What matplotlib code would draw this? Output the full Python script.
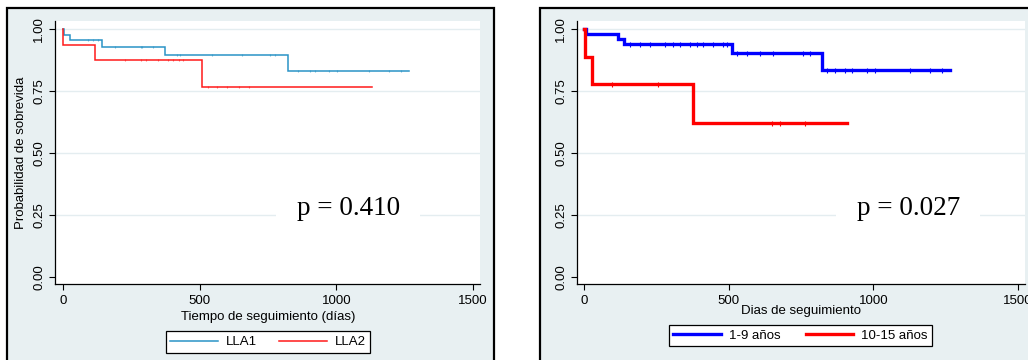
import numpy as np
import matplotlib
matplotlib.use("Agg")
import matplotlib.pyplot as plt
from matplotlib.patches import Rectangle
from matplotlib.lines import Line2D

plt.rcParams["font.family"] = ["Liberation Sans", "DejaVu Sans"]

# Kaplan-Meier curves: event times (days) and survival after each step
lla1_t = [0, 4, 26, 141, 372, 823, 1265]
lla1_s = [1.0, 0.977, 0.955, 0.930, 0.896, 0.831, 0.831]
lla1_cens = [91, 109, 127, 190, 284, 290, 328, 416, 428, 544, 654, 757, 775,
             861, 904, 922, 974, 1001, 1119, 1194, 1237]

lla2_t = [0, 1, 117, 510, 1129]
lla2_s = [1.0, 0.9375, 0.875, 0.766, 0.766]
lla2_cens = [227, 285, 303, 349, 385, 404, 424, 440, 532, 562, 599, 645, 682]

age1_t = [0, 6, 118, 138, 511, 824, 1265]
age1_s = [1.0, 0.980, 0.961, 0.939, 0.903, 0.837, 0.837]
age1_cens = [158, 193, 227, 279, 308, 331, 366, 389, 412, 446, 481, 493,
             527, 562, 608, 654, 758, 781, 839, 867, 902, 925, 977, 1006,
             1127, 1196, 1237]

age2_t = [0, 1, 25, 375, 908]
age2_s = [1.0, 0.889, 0.778, 0.622, 0.622]
age2_cens = [95, 256, 648, 677, 764]

x_ticks = [0, 500, 1000, 1500]
y_ticks = [0.0, 0.25, 0.5, 0.75, 1.0]

p_left = "p = 0.410"
p_right = "p = 0.027"

W, H = 1028, 360
PANEL = "#e8f0f2"
GRID = "#e4edf0"

fig = plt.figure(figsize=(W / 100, H / 100), dpi=100)
fig.patch.set_facecolor("white")


def fx(px):
    return px / W


def fy(py):
    return 1 - py / H


# outer panel frames, kept behind the axes
for x0, x1 in [(7, 494), (540, 1040)]:
    fig.patches.append(Rectangle((fx(x0), fy(375)), fx(x1 - x0), (375 - 8) / H,
                                 transform=fig.transFigure, facecolor=PANEL,
                                 edgecolor="black", linewidth=1.6, zorder=-5))


def surv_at(t, times, surv):
    idx = np.searchsorted(times, t, side="right") - 1
    return np.asarray(surv)[idx]


def km_axes(left_px, right_px, xlim):
    ax = fig.add_axes([fx(left_px), fy(284), fx(right_px - left_px), (284 - 21) / H])
    ax.set_facecolor("white")
    ax.set_xlim(*xlim)
    ax.set_ylim(-0.0295, 1.0335)
    for s in ["top", "right"]:
        ax.spines[s].set_visible(False)
    for s in ["left", "bottom"]:
        ax.spines[s].set_linewidth(0.9)
    ax.set_xticks(x_ticks)
    ax.set_yticks(y_ticks)
    ax.set_yticklabels([f"{v:.2f}" for v in y_ticks], rotation=90, va="center")
    ax.tick_params(direction="out", length=4, width=0.8, labelsize=9.5)
    ax.tick_params(axis="y", pad=3)
    ax.tick_params(axis="x", pad=4)
    for v in y_ticks[1:]:
        ax.axhline(v, color=GRID, lw=1.0, zorder=0.5)
    return ax


def draw_curve(ax, t, s, cens, color, lw, ms, alpha):
    ax.step(t, s, where="post", color=color, lw=lw, zorder=3, solid_joinstyle="miter")
    ax.plot(cens, surv_at(cens, t, s), ls="none", marker="|", color=color,
            ms=ms, mew=0.8, alpha=alpha, zorder=3)


def p_text(ax, x, txt):
    ax.text(x, 0.25, txt, ha="center", va="baseline", fontsize=19.5,
            family=["Liberation Serif", "DejaVu Serif"], zorder=4,
            bbox=dict(boxstyle="square,pad=0.75", facecolor="white",
                      edgecolor="none"))


# left panel: LLA1 vs LLA2
ax1 = km_axes(55, 480, (-29.3, 1525.6))
draw_curve(ax1, lla1_t, lla1_s, lla1_cens, "#2a93c6", 1.1, 2.0, 0.6)
draw_curve(ax1, lla2_t, lla2_s, lla2_cens, "#ff1a1a", 1.1, 2.0, 0.6)
p_text(ax1, 1044, p_left)
fig.text(fx(21.5), fy(153), "Probabilidad de sobrevida", rotation=90,
         ha="center", va="center", fontsize=9.5)
fig.text(fx(268), fy(317), "Tiempo de seguimiento (días)", ha="center",
         va="center", fontsize=9.5)
fig.legend(handles=[Line2D([], [], color="#2a93c6", lw=1.1),
                    Line2D([], [], color="#ff1a1a", lw=1.1)],
           labels=["LLA1", "LLA2"], ncol=2, loc="center",
           bbox_to_anchor=(fx(268), fy(342)), fontsize=9.5, frameon=True,
           fancybox=False, edgecolor="black", framealpha=1, handlelength=3.6,
           columnspacing=1.7, borderpad=0.35, handletextpad=0.6)
fig.legends[-1].get_frame().set_linewidth(0.9)

# right panel: age groups
ax2 = km_axes(577, 1025, (-25.3, 1525))
draw_curve(ax2, age1_t, age1_s, age1_cens, "#0000ff", 2.4, 3.6, 1.0)
draw_curve(ax2, age2_t, age2_s, age2_cens, "#ff0000", 2.4, 3.6, 1.0)
p_text(ax2, 1121, p_right)
fig.text(fx(801), fy(311), "Dias de seguimiento", ha="center", va="center",
         fontsize=9.5)
fig.legend(handles=[Line2D([], [], color="#0000ff", lw=2.4),
                    Line2D([], [], color="#ff0000", lw=2.4)],
           labels=["1-9 años", "10-15 años"], ncol=2, loc="center",
           bbox_to_anchor=(fx(800.5), fy(335.5)), fontsize=9.5, frameon=True,
           fancybox=False, edgecolor="black", framealpha=1, handlelength=3.6,
           columnspacing=1.9, borderpad=0.35, handletextpad=0.6)
fig.legends[-1].get_frame().set_linewidth(0.9)

fig.savefig("out.png", dpi=100, facecolor=fig.get_facecolor())
